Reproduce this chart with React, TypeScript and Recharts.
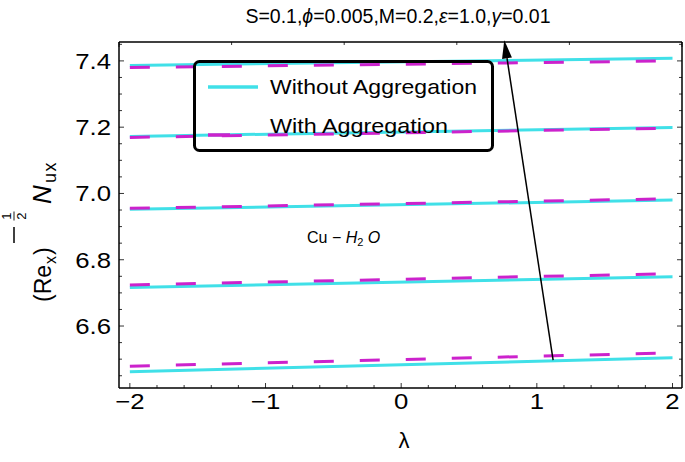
import { LineChart, Line, XAxis, YAxis, ReferenceLine } from 'recharts';

// lambda values at the ends of each curve
const lambdaValues = [-2, 2];

// (Re_x)^(-1/2) Nu_x, one pair per curve (gamma increases upward)
const withoutAggregation = [
  [7.386, 7.408],
  [7.172, 7.199],
  [6.952, 6.98],
  [6.716, 6.749],
  [6.462, 6.504],
];
const withAggregation = [
  [7.38, 7.4],
  [7.169, 7.197],
  [6.955, 6.984],
  [6.724, 6.758],
  [6.479, 6.519],
];

const xMajorTicks = [-2, -1, 0, 1, 2];
const yMajorTicks = [6.6, 6.8, 7.0, 7.2, 7.4];
const xDomain = [-2.08, 2.07];
const yDomain = [6.413, 7.457];

// arrow pointing in the direction of increasing parameter
const arrowStart = { x: 1.12, y: 6.497 };
const arrowEnd = { x: 0.76, y: 7.462 };

const CYAN = '#40E0E8';
const MAGENTA = '#CC22CC';
const FONT = '"Liberation Sans", Arial, sans-serif';

const chartData = lambdaValues.map((x, i) => {
  const row: any = { x };
  withoutAggregation.forEach((s, k) => (row['w' + k] = s[i]));
  withAggregation.forEach((s, k) => (row['a' + k] = s[i]));
  return row;
});

// minor ticks between the majors
const xTicks: number[] = [];
for (let i = -10; i <= 10; i++) xTicks.push(Math.round(i * 0.2 * 10) / 10);
const yTicks: number[] = [];
for (let i = 129; i <= 149; i++) yTicks.push(Math.round(i * 0.05 * 100) / 100);

const isMajor = (v: number, majors: number[]) => majors.some(m => Math.abs(m - v) < 1e-6);
const fmt = (v: number, d: number) => (v < 0 ? '\u2212' : '') + Math.abs(v).toFixed(d);

const BottomTick = (props: any) => {
  const { x, y, payload } = props;
  const major = isMajor(payload.value, xMajorTicks);
  return (
    <g>
      <line x1={x} x2={x} y1={y} y2={y - (major ? 5 : 3)} stroke="#000" strokeWidth={0.8} />
      {major && (
        <text
          transform={`translate(${x},${y + 21}) scale(1.17,1)`}
          textAnchor="middle"
          fontSize={22}
          fontFamily={FONT}
          fill="#000"
        >
          {fmt(payload.value, 0)}
        </text>
      )}
    </g>
  );
};

const TopTick = (props: any) => {
  const { x, y, payload } = props;
  // the unbound top axis also hands over a stray tick left of the frame
  if (!Number.isFinite(x) || x < 110) return null;
  const major = isMajor(payload.value, xMajorTicks);
  return <line x1={x} x2={x} y1={y} y2={y + (major ? 5 : 3)} stroke="#000" strokeWidth={0.8} />;
};

const LeftTick = (props: any) => {
  const { x, y, payload } = props;
  const major = isMajor(payload.value, yMajorTicks);
  return (
    <g>
      <line x1={x} x2={x + (major ? 5 : 3)} y1={y} y2={y} stroke="#000" strokeWidth={0.8} />
      {major && (
        <text
          transform={`translate(${x - 8},${y + 8}) scale(1.17,1)`}
          textAnchor="end"
          fontSize={22}
          fontFamily={FONT}
          fill="#000"
        >
          {fmt(payload.value, 1)}
        </text>
      )}
    </g>
  );
};

const RightTick = (props: any) => {
  const { x, y, payload } = props;
  const major = isMajor(payload.value, yMajorTicks);
  return <line x1={x} x2={x - (major ? 5 : 3)} y1={y} y2={y} stroke="#000" strokeWidth={0.8} />;
};

const Arrow = (props: any) => {
  const { x1, y1, x2, y2 } = props;
  const len = Math.hypot(x2 - x1, y2 - y1);
  const ux = (x2 - x1) / len;
  const uy = (y2 - y1) / len;
  const hl = 18;
  const hw = 5;
  const bx = x2 - ux * hl;
  const by = y2 - uy * hl;
  return (
    <g>
      <line x1={x1} y1={y1} x2={bx} y2={by} stroke="#000" strokeWidth={1.5} />
      <polygon
        points={`${x2},${y2} ${bx - uy * hw},${by + ux * hw} ${bx + uy * hw},${by - ux * hw}`}
        fill="#000"
      />
    </g>
  );
};

const axisLine = { stroke: '#000', strokeWidth: 1.5 };

// y axis title, laid out along the text direction then rotated
const YTitle = () => (
  <g transform="translate(51,302) rotate(-90)" fill="#000">
    <text x={0} y={0} fontSize={23}>(Re</text>
    <text x={38} y={5} fontSize={16}>x</text>
    <text x={47} y={0} fontSize={23}>)</text>
    <line x1={59} x2={75} y1={-37} y2={-37} stroke="#000" strokeWidth={1.5} />
    <text x={86} y={-40} fontSize={13} textAnchor="middle">1</text>
    <line x1={81.5} x2={90.5} y1={-37} y2={-37} stroke="#000" strokeWidth={0.9} />
    <text x={86} y={-25} fontSize={13} textAnchor="middle">2</text>
    <text x={98} y={0} fontSize={26} fontStyle="italic">N</text>
    <text x={119} y={5} fontSize={18} letterSpacing={1.5}>ux</text>
  </g>
);

export default function App() {
  return (
    <div style={{ position: 'absolute', left: 0, top: 0, width: 685, height: 462, background: '#fff' }}>
      <LineChart
        width={685}
        height={462}
        data={chartData}
        margin={{ top: 41, right: 2, bottom: 0, left: 0 }}
      >
        <XAxis
          type="number"
          dataKey="x"
          domain={xDomain}
          ticks={xTicks}
          interval={0}
          allowDataOverflow
          height={74}
          tickSize={0}
          tickMargin={0}
          tickLine={false}
          axisLine={axisLine}
          tick={<BottomTick />}
        />
        <XAxis
          xAxisId="top"
          orientation="top"
          type="number"
          domain={xDomain}
          ticks={xTicks}
          interval={0}
          allowDataOverflow
          height={1}
          tickSize={0}
          tickMargin={0}
          tickLine={false}
          axisLine={axisLine}
          tick={<TopTick />}
        />
        <YAxis
          type="number"
          domain={yDomain}
          ticks={yTicks}
          interval={0}
          allowDataOverflow
          width={119}
          tickSize={0}
          tickMargin={0}
          tickLine={false}
          axisLine={axisLine}
          tick={<LeftTick />}
        />
        <YAxis
          yAxisId="right"
          orientation="right"
          type="number"
          domain={yDomain}
          ticks={yTicks}
          interval={0}
          allowDataOverflow
          width={1}
          tickSize={0}
          tickMargin={0}
          tickLine={false}
          axisLine={axisLine}
          tick={<RightTick />}
        />
        {withoutAggregation.map((_, k) => (
          <Line
            key={'w' + k}
            type="linear"
            dataKey={'w' + k}
            stroke={CYAN}
            strokeWidth={3}
            dot={false}
            isAnimationActive={false}
          />
        ))}
        {withAggregation.map((_, k) => (
          <Line
            key={'a' + k}
            type="linear"
            dataKey={'a' + k}
            stroke={MAGENTA}
            strokeWidth={3}
            strokeDasharray="20 26"
            dot={false}
            isAnimationActive={false}
          />
        ))}
        <ReferenceLine
          segment={[arrowStart, arrowEnd]}
          ifOverflow="visible"
          shape={<Arrow />}
        />
      </LineChart>
      <svg
        width={685}
        height={462}
        style={{ position: 'absolute', left: 0, top: 0, pointerEvents: 'none' }}
        fontFamily={FONT}
      >
        <text x={398} y={23} textAnchor="middle" fontSize={19.5} fill="#000">
          S=0.1,<tspan fontStyle="italic">ϕ</tspan>=0.005,M=0.2,<tspan fontStyle="italic">ε</tspan>=1.0,<tspan fontStyle="italic">γ</tspan>=0.01
        </text>
        <text x={404} y={448} textAnchor="middle" fontSize={22} fill="#000">
          λ
        </text>
        <YTitle />
        <text x={307} y={243} fontSize={16} fill="#000">
          Cu − <tspan fontStyle="italic">H</tspan>
          <tspan fontSize={11} dy={3}>2</tspan>
          <tspan dy={-3} fontStyle="italic"> O</tspan>
        </text>
        {/* legend */}
        <rect x={194.5} y={61.5} width={298} height={89} rx={5} fill="none" stroke="#000" strokeWidth={3} />
        <line x1={208} x2={258} y1={87} y2={87} stroke={CYAN} strokeWidth={3.5} />
        <text x={270} y={94} fontSize={21} fill="#000" textLength={207} lengthAdjust="spacingAndGlyphs">
          Without Aggregation
        </text>
        <line x1={208} x2={230} y1={135} y2={135} stroke={MAGENTA} strokeWidth={3.5} />
        <text x={270} y={133} fontSize={21} fill="#000" textLength={178} lengthAdjust="spacingAndGlyphs">
          With Aggregation
        </text>
      </svg>
    </div>
  );
}
